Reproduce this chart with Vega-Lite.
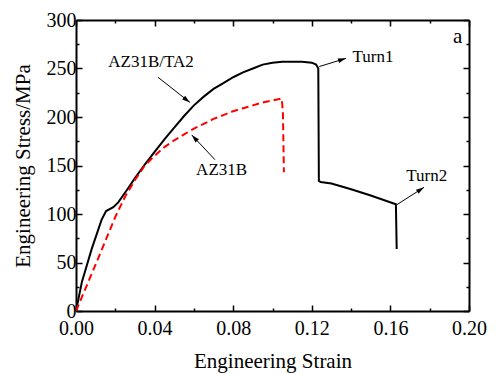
{
  "$schema": "https://vega.github.io/schema/vega-lite/v6.json",
  "width": 393,
  "height": 291,
  "autosize": "none",
  "padding": {"left": 76, "top": 20, "right": 28, "bottom": 63},
  "background": "white",
  "config": {
    "view": {"stroke": null},
    "font": "Liberation Serif, serif",
    "axis": {"grid": false, "domainColor": "black", "domainWidth": 2, "tickColor": "black", "tickWidth": 1.5, "labelColor": "black", "titleColor": "black", "labelFont": "Liberation Serif, serif", "titleFont": "Liberation Serif, serif", "labelFontSize": 20, "titleFontSize": 21, "titleFontWeight": "normal"}
  },
  "datasets": {
    "curves": [
      {"series": "AZ31B/TA2", "i": 0, "strain": 0.0, "stress": 0},
      {"series": "AZ31B/TA2", "i": 1, "strain": 0.003, "stress": 30},
      {"series": "AZ31B/TA2", "i": 2, "strain": 0.008, "stress": 64},
      {"series": "AZ31B/TA2", "i": 3, "strain": 0.013, "stress": 94},
      {"series": "AZ31B/TA2", "i": 4, "strain": 0.0153, "stress": 103},
      {"series": "AZ31B/TA2", "i": 5, "strain": 0.019, "stress": 107},
      {"series": "AZ31B/TA2", "i": 6, "strain": 0.0215, "stress": 112},
      {"series": "AZ31B/TA2", "i": 7, "strain": 0.026, "stress": 125},
      {"series": "AZ31B/TA2", "i": 8, "strain": 0.03, "stress": 137},
      {"series": "AZ31B/TA2", "i": 9, "strain": 0.035, "stress": 151},
      {"series": "AZ31B/TA2", "i": 10, "strain": 0.04, "stress": 164},
      {"series": "AZ31B/TA2", "i": 11, "strain": 0.045, "stress": 177},
      {"series": "AZ31B/TA2", "i": 12, "strain": 0.05, "stress": 189},
      {"series": "AZ31B/TA2", "i": 13, "strain": 0.055, "stress": 201},
      {"series": "AZ31B/TA2", "i": 14, "strain": 0.06, "stress": 212},
      {"series": "AZ31B/TA2", "i": 15, "strain": 0.065, "stress": 221},
      {"series": "AZ31B/TA2", "i": 16, "strain": 0.07, "stress": 229},
      {"series": "AZ31B/TA2", "i": 17, "strain": 0.075, "stress": 235},
      {"series": "AZ31B/TA2", "i": 18, "strain": 0.08, "stress": 241},
      {"series": "AZ31B/TA2", "i": 19, "strain": 0.085, "stress": 246},
      {"series": "AZ31B/TA2", "i": 20, "strain": 0.09, "stress": 250},
      {"series": "AZ31B/TA2", "i": 21, "strain": 0.095, "stress": 254},
      {"series": "AZ31B/TA2", "i": 22, "strain": 0.1, "stress": 256},
      {"series": "AZ31B/TA2", "i": 23, "strain": 0.105, "stress": 257},
      {"series": "AZ31B/TA2", "i": 24, "strain": 0.11, "stress": 257},
      {"series": "AZ31B/TA2", "i": 25, "strain": 0.115, "stress": 257},
      {"series": "AZ31B/TA2", "i": 26, "strain": 0.12, "stress": 256},
      {"series": "AZ31B/TA2", "i": 27, "strain": 0.1222, "stress": 254},
      {"series": "AZ31B/TA2", "i": 28, "strain": 0.1233, "stress": 250},
      {"series": "AZ31B/TA2", "i": 29, "strain": 0.1236, "stress": 134},
      {"series": "AZ31B/TA2", "i": 30, "strain": 0.1245, "stress": 133},
      {"series": "AZ31B/TA2", "i": 31, "strain": 0.13, "stress": 131.5},
      {"series": "AZ31B/TA2", "i": 32, "strain": 0.14, "stress": 125.5},
      {"series": "AZ31B/TA2", "i": 33, "strain": 0.15, "stress": 119},
      {"series": "AZ31B/TA2", "i": 34, "strain": 0.1628, "stress": 110},
      {"series": "AZ31B/TA2", "i": 35, "strain": 0.1632, "stress": 64},
      {"series": "AZ31B", "i": 0, "strain": 0.0, "stress": 0},
      {"series": "AZ31B", "i": 1, "strain": 0.01, "stress": 48},
      {"series": "AZ31B", "i": 2, "strain": 0.02, "stress": 97},
      {"series": "AZ31B", "i": 3, "strain": 0.025, "stress": 118},
      {"series": "AZ31B", "i": 4, "strain": 0.03, "stress": 135},
      {"series": "AZ31B", "i": 5, "strain": 0.035, "stress": 150},
      {"series": "AZ31B", "i": 6, "strain": 0.04, "stress": 160},
      {"series": "AZ31B", "i": 7, "strain": 0.045, "stress": 169},
      {"series": "AZ31B", "i": 8, "strain": 0.05, "stress": 176},
      {"series": "AZ31B", "i": 9, "strain": 0.055, "stress": 182},
      {"series": "AZ31B", "i": 10, "strain": 0.06, "stress": 188},
      {"series": "AZ31B", "i": 11, "strain": 0.065, "stress": 193},
      {"series": "AZ31B", "i": 12, "strain": 0.07, "stress": 198},
      {"series": "AZ31B", "i": 13, "strain": 0.075, "stress": 202},
      {"series": "AZ31B", "i": 14, "strain": 0.08, "stress": 206},
      {"series": "AZ31B", "i": 15, "strain": 0.085, "stress": 209},
      {"series": "AZ31B", "i": 16, "strain": 0.09, "stress": 212},
      {"series": "AZ31B", "i": 17, "strain": 0.095, "stress": 215},
      {"series": "AZ31B", "i": 18, "strain": 0.1, "stress": 217},
      {"series": "AZ31B", "i": 19, "strain": 0.1047, "stress": 219},
      {"series": "AZ31B", "i": 20, "strain": 0.1053, "stress": 205},
      {"series": "AZ31B", "i": 21, "strain": 0.1058, "stress": 143}
    ],
    "labels": [
      {"label": "AZ31B/TA2", "x": 0.0382, "y": 257},
      {"label": "AZ31B", "x": 0.0741, "y": 145},
      {"label": "Turn1", "x": 0.1511, "y": 261.5},
      {"label": "Turn2", "x": 0.1785, "y": 139},
      {"label": "a", "x": 0.1942, "y": 282}
    ],
    "arrows": [
      {"arrow": "AZ31B/TA2", "x": 0.0417, "y": 241, "x2": 0.058, "y2": 215},
      {"arrow": "AZ31B", "x": 0.0707, "y": 156, "x2": 0.0589, "y2": 181.5},
      {"arrow": "Turn1", "x": 0.1238, "y": 252, "x2": 0.1374, "y2": 260.5},
      {"arrow": "Turn2", "x": 0.1632, "y": 109.5, "x2": 0.1771, "y2": 127.5}
    ]
  },
  "resolve": {"axis": {"x": "independent", "y": "independent"}},
  "layer": [
    {
      "data": {"name": "curves"},
      "transform": [{"filter": "datum.series == 'AZ31B/TA2'"}],
      "mark": {"type": "line", "color": "black", "strokeWidth": 2, "clip": true},
      "encoding": {
        "x": {"field": "strain", "type": "quantitative", "scale": {"domain": [0, 0.2], "nice": false, "zero": false},
          "axis": {"orient": "bottom", "title": "Engineering Strain", "values": [0, 0.02, 0.04, 0.06, 0.08, 0.1, 0.12, 0.14, 0.16, 0.18, 0.2],
            "labelExpr": "round(datum.value*100) % 4 == 0 ? format(datum.value, '.2f') : ''",
            "tickSize": {"condition": {"test": "round(datum.value*100) % 4 != 0", "value": -3}, "value": -6},
            "labelPadding": 13, "labelFlush": false, "labelOverlap": false, "titlePadding": 9}},
        "y": {"field": "stress", "type": "quantitative", "scale": {"domain": [0, 300], "nice": false},
          "axis": {"orient": "left", "title": "Engineering Stress/MPa", "values": [0, 25, 50, 75, 100, 125, 150, 175, 200, 225, 250, 275, 300],
            "labelExpr": "datum.value % 50 == 0 ? datum.label : ''",
            "tickSize": {"condition": {"test": "datum.value % 50 != 0", "value": -3}, "value": -6},
            "labelPadding": 6, "labelFlush": false, "labelOverlap": false, "titlePadding": 13}},
        "order": {"field": "i", "type": "quantitative"}
      }
    },
    {
      "data": {"name": "curves"},
      "transform": [{"filter": "datum.series == 'AZ31B'"}],
      "mark": {"type": "line", "color": "#ff0000", "strokeWidth": 2, "strokeDash": [7, 4], "clip": true},
      "encoding": {
        "x": {"field": "strain", "type": "quantitative",
          "axis": {"orient": "top", "title": null, "labels": false, "values": [0, 0.02, 0.04, 0.06, 0.08, 0.1, 0.12, 0.14, 0.16, 0.18, 0.2],
            "tickSize": {"condition": {"test": "round(datum.value*100) % 4 != 0", "value": -3}, "value": -6}}},
        "y": {"field": "stress", "type": "quantitative",
          "axis": {"orient": "right", "title": null, "labels": false, "values": [0, 25, 50, 75, 100, 125, 150, 175, 200, 225, 250, 275, 300],
            "tickSize": {"condition": {"test": "datum.value % 50 != 0", "value": -3}, "value": -6}}},
        "order": {"field": "i", "type": "quantitative"}
      }
    },
    {
      "data": {"name": "arrows"},
      "mark": {"type": "rule", "color": "black", "strokeWidth": 1},
      "encoding": {
        "x": {"field": "x", "type": "quantitative", "axis": null},
        "y": {"field": "y", "type": "quantitative", "axis": null},
        "x2": {"field": "x2"},
        "y2": {"field": "y2"}
      }
    },
    {
      "data": {"name": "arrows"},
      "transform": [{"filter": "datum.arrow == 'AZ31B/TA2'"}],
      "mark": {"type": "point", "shape": "M0,0L0.6,2L-0.6,2Z", "size": 64, "filled": true, "color": "black", "opacity": 1, "angle": 128},
      "encoding": {"x": {"field": "x2", "type": "quantitative", "axis": null}, "y": {"field": "y2", "type": "quantitative", "axis": null}}
    },
    {
      "data": {"name": "arrows"},
      "transform": [{"filter": "datum.arrow == 'AZ31B'"}],
      "mark": {"type": "point", "shape": "M0,0L0.6,2L-0.6,2Z", "size": 64, "filled": true, "color": "black", "opacity": 1, "angle": 317},
      "encoding": {"x": {"field": "x2", "type": "quantitative", "axis": null}, "y": {"field": "y2", "type": "quantitative", "axis": null}}
    },
    {
      "data": {"name": "arrows"},
      "transform": [{"filter": "datum.arrow == 'Turn1'"}],
      "mark": {"type": "point", "shape": "M0,0L0.6,2L-0.6,2Z", "size": 64, "filled": true, "color": "black", "opacity": 1, "angle": 72},
      "encoding": {"x": {"field": "x2", "type": "quantitative", "axis": null}, "y": {"field": "y2", "type": "quantitative", "axis": null}}
    },
    {
      "data": {"name": "arrows"},
      "transform": [{"filter": "datum.arrow == 'Turn2'"}],
      "mark": {"type": "point", "shape": "M0,0L0.6,2L-0.6,2Z", "size": 64, "filled": true, "color": "black", "opacity": 1, "angle": 57},
      "encoding": {"x": {"field": "x2", "type": "quantitative", "axis": null}, "y": {"field": "y2", "type": "quantitative", "axis": null}}
    },
    {
      "data": {"name": "labels"},
      "transform": [{"filter": "datum.label != 'a'"}],
      "mark": {"type": "text", "font": "Liberation Serif, serif", "fontSize": 17, "color": "black", "align": "center", "baseline": "middle"},
      "encoding": {
        "x": {"field": "x", "type": "quantitative", "axis": null},
        "y": {"field": "y", "type": "quantitative", "axis": null},
        "text": {"field": "label"}
      }
    },
    {
      "data": {"name": "labels"},
      "transform": [{"filter": "datum.label == 'a'"}],
      "mark": {"type": "text", "font": "Liberation Serif, serif", "fontSize": 21, "color": "black", "align": "center", "baseline": "middle"},
      "encoding": {
        "x": {"field": "x", "type": "quantitative", "axis": null},
        "y": {"field": "y", "type": "quantitative", "axis": null},
        "text": {"field": "label"}
      }
    }
  ]
}
